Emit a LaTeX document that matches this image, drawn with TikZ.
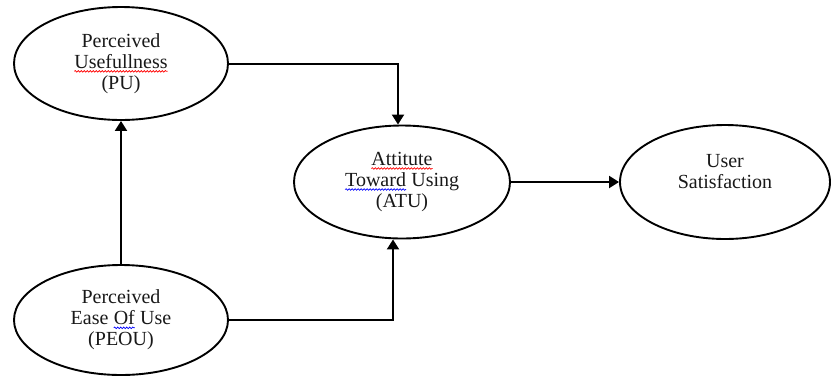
\documentclass[tikz,border=0pt]{standalone}
\usepackage{fontspec}
\setmainfont{Liberation Serif}
\usetikzlibrary{shapes.geometric,arrows.meta,decorations.pathmorphing}
\newcommand{\wavyword}[2]{\tikz[baseline=(ww.base)]{\node[shape=rectangle,inner sep=0pt,outer sep=0pt,minimum width=0pt,minimum height=0pt,draw=none,fill=none](ww){#2};\draw[#1,line width=0.7pt,decorate,decoration={snake,amplitude=0.8pt,segment length=3pt}] ([yshift=-3pt]ww.base west) -- ([yshift=-3pt]ww.base east);}}
\tikzset{
  ell/.style={draw, shape=ellipse, line width=1.9pt, inner sep=0pt, minimum width=214pt, minimum height=113pt, align=center, font=\fontsize{20}{21}\selectfont, text=black!90},
  conn/.style={line width=2pt, -{Triangle[length=10pt,width=12pt]}}
}
\begin{document}
\begin{tikzpicture}[x=1pt,y=-1pt]
\useasboundingbox (0,0) rectangle (831,376);
\node[ell] (PU) at (121,63.5) {Perceived\\\wavyword{red}{Usefullness}\\(PU)};
\node[ell,minimum width=216pt] (ATU) at (402,182) {\wavyword{red}{Attitute}\\\wavyword{blue}{Toward} Using\\(ATU)};
\node[ell,minimum width=210pt,minimum height=114pt] (US) at (725,182) {User\\Satisfaction\\\mbox{}};
\node[ell,minimum height=110pt] (PEOU) at (121,320) {Perceived\\Ease \wavyword{blue}{Of} Use\\(PEOU)};
\draw[conn] (PU.east) -| ([xshift=-4pt]ATU.north);
\draw[conn] (PEOU.north) -- (PU.south);
\draw[conn] (PEOU.east) -| ([xshift=-9pt]ATU.south);
\draw[conn] (ATU.east) -- (US.west);
\end{tikzpicture}
\end{document}
